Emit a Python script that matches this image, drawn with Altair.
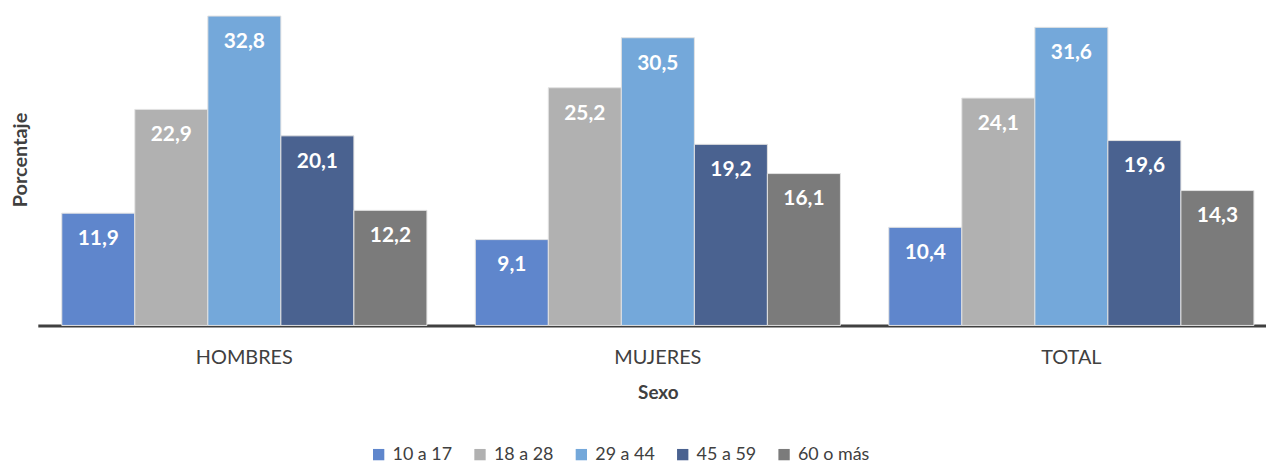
import altair as alt
import pandas as pd

groups = ["HOMBRES", "MUJERES", "TOTAL"]
ages = ["10 a 17", "18 a 28", "29 a 44", "45 a 59", "60 o más"]
hombres = [11.9, 22.9, 32.8, 20.1, 12.2]
mujeres = [9.1, 25.2, 30.5, 19.2, 16.1]
total = [10.4, 24.1, 31.6, 19.6, 14.3]
colors = ["#5F86CC", "#B1B1B1", "#74A8DA", "#4A6290", "#7B7B7B"]

rows = []
for g, vals in zip(groups, [hombres, mujeres, total]):
    for a, v in zip(ages, vals):
        rows.append({"Sexo": g, "Edad": a, "Valor": v,
                     "Etiqueta": f"{v:.1f}".replace(".", ",")})
df = pd.DataFrame(rows)

FONT = "Lato"

x = alt.X("Sexo:N", sort=groups, title="Sexo",
          scale=alt.Scale(paddingInner=0.117, paddingOuter=0.058, range=[0, 1248]),
          axis=alt.Axis(labelAngle=0, labelFontSize=20, labelColor="#404040",
                        labelFont=FONT, labelPadding=22, ticks=False,
                        domainColor="#404040", domainWidth=3,
                        titleFont=FONT, titleFontSize=19, titleFontWeight="bold",
                        titleColor="#404040", titlePadding=17))
xo = alt.XOffset("Edad:N", sort=ages,
                 scale=alt.Scale(paddingInner=0, paddingOuter=0))
y = alt.Y("Valor:Q", scale=alt.Scale(domain=[0, 33.5], nice=False, zero=True),
          title="Porcentaje",
          axis=alt.Axis(labels=False, ticks=False, domain=False, grid=False,
                        titleFont=FONT, titleFontSize=20, titleFontWeight="bold",
                        titleColor="#404040", titleX=-17, titleY=151,
                        titleAngle=270, titleBaseline="middle"))

bars = alt.Chart(df).mark_bar(stroke="#E2E2E2", strokeWidth=1).encode(
    x=x, xOffset=xo, y=y,
    color=alt.Color("Edad:N", sort=ages,
                    scale=alt.Scale(domain=ages, range=colors),
                    legend=alt.Legend(title=None, orient="none", direction="horizontal",
                                      columns=5, legendX=334, legendY=439,
                                      symbolType="square", symbolSize=130,
                                      symbolStrokeWidth=0, labelFontSize=18,
                                      labelFont=FONT, labelColor="#404040",
                                      labelOffset=5, columnPadding=19)),
)

labels = alt.Chart(df).mark_text(color="white", font=FONT, fontSize=21,
                                 fontWeight="bold", baseline="middle", dy=26).encode(
    x=alt.X("Sexo:N", sort=groups), xOffset=alt.XOffset("Edad:N", sort=ages),
    y=alt.Y("Valor:Q"), text="Etiqueta:N",
)

chart = (bars + labels).properties(
    width=1236, height=318,
    autosize=alt.AutoSizeParams(type="none"),
    padding={"left": 30, "top": 0, "right": 0, "bottom": 141},
    background="white",
).configure_view(stroke=None)

chart.save("out.html", embed_options={"renderer": "svg", "actions": False})
